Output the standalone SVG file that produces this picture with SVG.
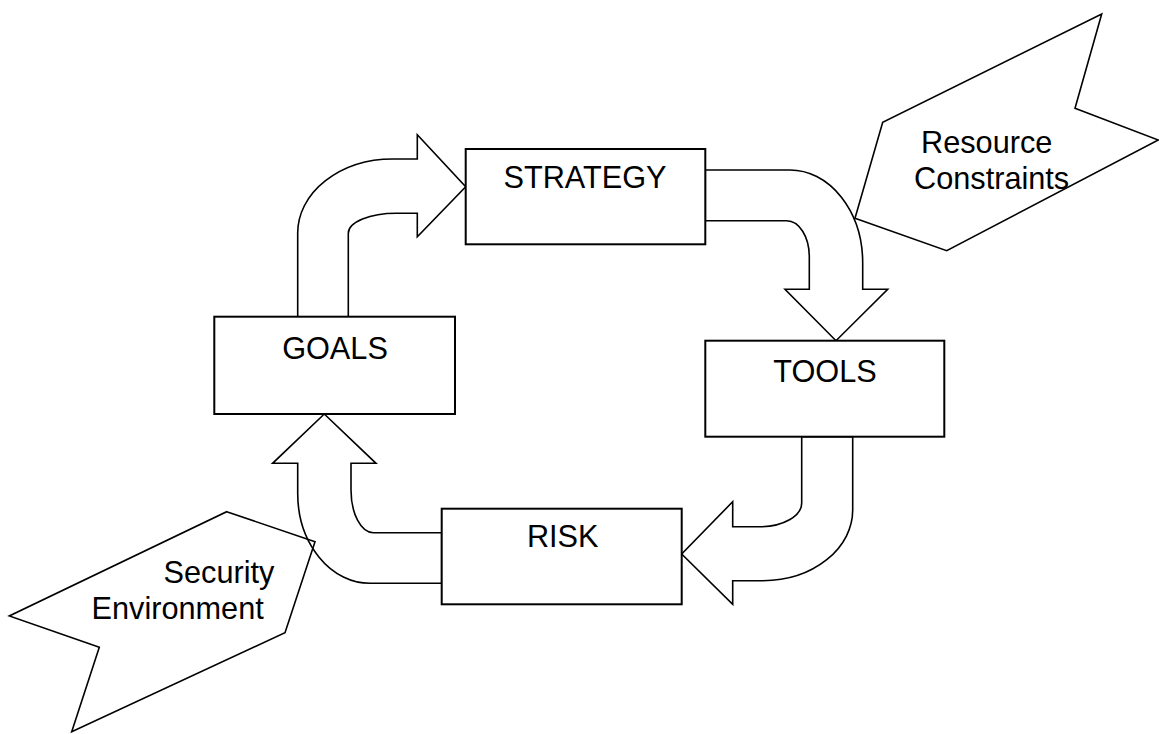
<svg xmlns="http://www.w3.org/2000/svg" width="1159" height="734" viewBox="0 0 1159 734">
<style>
.box{fill:#fff;stroke:#000;stroke-width:2}
.arr{fill:none;stroke:#000;stroke-width:1.6;stroke-linejoin:miter}
.call{fill:none;stroke:#000;stroke-width:1.6}
text{font-family:"Liberation Sans",Arial,sans-serif;font-size:30.7px;fill:#000}
.c{text-anchor:middle}
</style>
<rect width="1159" height="734" fill="#fff"/>
<g id="connectors">
<path class="arr" d="M 297.7 316.7 L 297.7 233 A 95 74 0 0 1 392.7 159 L 417.3 159 L 417.3 134.7 L 465.7 186.7 L 417.3 236.7 L 417.3 213.3 L 396.7 213.3 A 48 20 0 0 0 348.3 233.3 L 348.3 316.7 Z"/>
<path class="arr" d="M 705.3 170 L 790 170 A 72.7 93 0 0 1 862.7 263 L 862.7 289.3 L 887.7 289.3 L 836 340.7 L 785 289.3 L 809.3 289.3 L 809.3 256.7 A 22.6 36 0 0 0 786.7 220.7 L 705.3 220.7 Z"/>
<path class="arr" d="M 852.7 436.7 L 852.7 510 A 89.7 70.7 0 0 1 763 580.7 L 732.7 580.7 L 732.7 604.3 L 681.7 554 L 732.7 501.7 L 732.7 526.7 L 760 526.7 A 41.7 23.7 0 0 0 801.7 503 L 801.7 436.7 Z"/>
<path class="arr" d="M 441.7 583.3 L 370 583.3 A 72.3 90 0 0 1 297.7 493.3 L 297.7 463.3 L 272.6 463.3 L 324.3 414 L 376 463.3 L 351 463.3 L 351 490 A 22.3 42.7 0 0 0 373.3 532.7 L 441.7 532.7 Z"/>
</g>
<g id="goals"><rect class="box" x="214.3" y="316.7" width="240.7" height="97.3"/><text class="c" x="335" y="359">GOALS</text></g>
<g id="strategy"><rect class="box" x="465.7" y="149" width="239.6" height="95.3"/><text class="c" x="585" y="188">STRATEGY</text></g>
<g id="tools"><rect class="box" x="705.3" y="340.7" width="239" height="96"/><text class="c" x="825" y="381.7">TOOLS</text></g>
<g id="risk"><rect class="box" x="441.7" y="508.7" width="240" height="95.6"/><text class="c" x="562.7" y="546.7">RISK</text></g>
<g id="resource-constraints"><path class="call" d="M 1101.7 14 L 1075 108.3 L 1158.3 140 L 946.7 250.7 L 855 218.3 L 882.7 122.3 Z"/><text x="921" y="153.3">Resource</text><text x="914" y="188.8">Constraints</text></g>
<g id="security-environment"><path class="call" d="M 226.7 511.7 L 315 541.7 L 285 632.7 L 71.7 731.7 L 99.3 647.3 L 9.3 616 Z"/><text x="163.5" y="582.7">Security</text><text x="91.5" y="619.3">Environment</text></g>
</svg>
